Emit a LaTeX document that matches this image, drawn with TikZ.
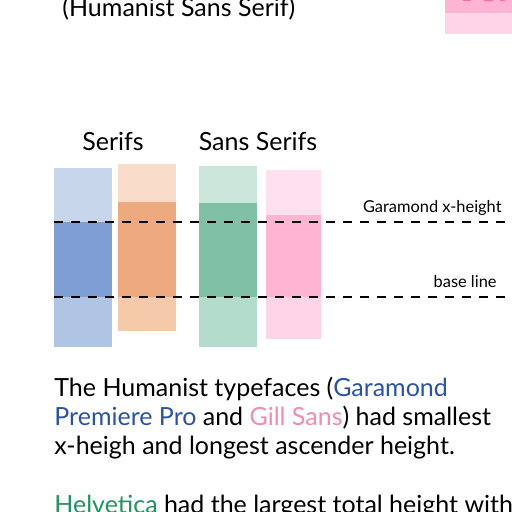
\documentclass[tikz,border=0pt]{standalone}
\usepackage{fontspec}
\setmainfont{Lato}
\usepackage{tikz}
\definecolor{bluelt}{HTML}{C8D6EC}
\definecolor{bluedk}{HTML}{7F9FD4}
\definecolor{bluelo}{HTML}{B0C4E4}
\definecolor{orangelt}{HTML}{F9DDCA}
\definecolor{orangedk}{HTML}{EEAA7E}
\definecolor{orangelo}{HTML}{F5CAAB}
\definecolor{greenlt}{HTML}{CCE6DC}
\definecolor{greendk}{HTML}{80C0A4}
\definecolor{greenlo}{HTML}{B4DCCC}
\definecolor{pinklt}{HTML}{FFE0EE}
\definecolor{pinkdk}{HTML}{FFB4D4}
\definecolor{pinklo}{HTML}{FFD4E8}
\definecolor{garablue}{HTML}{2A52A8}
\definecolor{gillpink}{HTML}{F28AB4}
\definecolor{sampink}{HTML}{F070A8}
\definecolor{helvgreen}{HTML}{1F9460}

\begin{document}
\begin{tikzpicture}[
        x=0.5pt, y=-0.5pt,
        txt/.style={anchor=base west, inner sep=0pt, font=\fontsize{12.5}{14.5}\selectfont},
        head/.style={anchor=base, inner sep=0pt, font=\fontsize{12.5}{14.5}\selectfont},
        lbl/.style={anchor=base east, inner sep=0pt, font=\fontsize{8.2}{9}\selectfont},
        guide/.style={dashed, dash pattern=on 4.5pt off 4pt, line width=1.1pt, black},
      ]
        \useasboundingbox (0,0) rectangle (512,512);
        \clip (0,0) rectangle (512,512);

        % Gill Sans sample, cut at the top
        \fill[pinklo] (445,0) rectangle (512,34);
        \fill[pinkdk] (445,0) rectangle (512,13);
        \node[anchor=base west, inner sep=0pt, text=sampink,
              font=\fontsize{30}{30}\selectfont\bfseries] (sample) at (449,2) {Ta};

        \node[txt] (sub) at (62,17) {(Humanist Sans Serif)};

        % column heads
        \node[head] (serif) at (113,151) {Serifs};
        \node[head] (sans)  at (258,151) {Sans Serifs};

        % bars: ascender, x-height, descender
        \fill[bluelt]   (54,168)  rectangle (112,222);
        \fill[bluedk]   (54,222)  rectangle (112,297);
        \fill[bluelo]   (54,297)  rectangle (112,347);

        \fill[orangelt] (118,164) rectangle (176,202);
        \fill[orangedk] (118,202) rectangle (176,297);
        \fill[orangelo] (118,297) rectangle (176,331);

        \fill[greenlt]  (199,166) rectangle (257,203);
        \fill[greendk]  (199,203) rectangle (257,297);
        \fill[greenlo]  (199,297) rectangle (257,347);

        \fill[pinklt]   (266,170) rectangle (321,215);
        \fill[pinkdk]   (266,215) rectangle (321,297);
        \fill[pinklo]   (266,297) rectangle (321,339);

        % guide lines
        \coordinate (xh0) at (54,222);  \coordinate (xh1) at (510,222);
        \coordinate (bl0) at (54,297);  \coordinate (bl1) at (510,297);
        \draw[guide] (xh0) -- (xh1);
        \draw[guide] (bl0) -- (bl1);
        \node[lbl] (xlbl) at (502,213) {Garamond x-height};
        \node[lbl] (blbl) at (497,287) {base line};

        % text
        \node[txt] (l1) at (54,396) {The Humanist typefaces (\textcolor{garablue}{Garamond}};
        \node[txt] (l2) at (54,425) {\textcolor{garablue}{Premiere Pro} and \textcolor{gillpink}{Gill Sans}) had smallest};
        \node[txt] (l3) at (54,454) {x-heigh and longest ascender height.};
        \node[txt] (l5) at (54,513) {\textcolor{helvgreen}{Helvetica} had the largest total height with};
      \end{tikzpicture}
\end{document}
